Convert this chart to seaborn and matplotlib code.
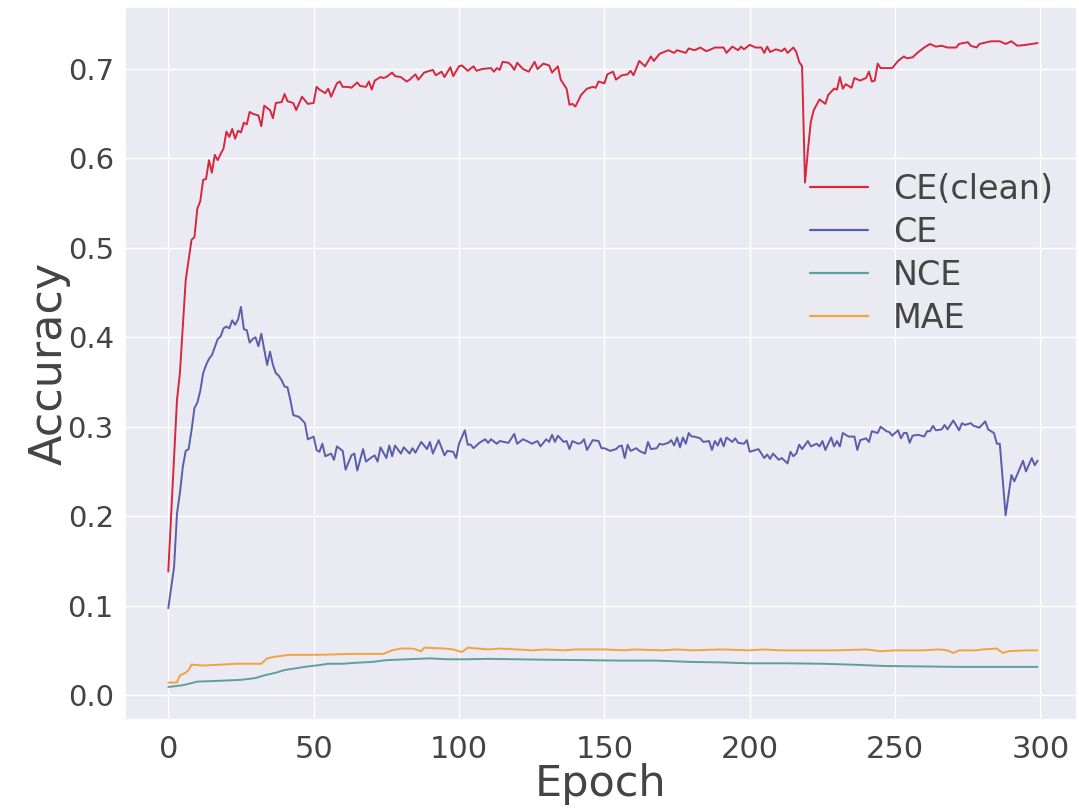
import numpy as np
import pandas as pd
import matplotlib
matplotlib.use("Agg")
import matplotlib.pyplot as plt
import seaborn as sns

# ---------------- data (epoch, accuracy) ----------------
ce_clean = [(0,0.138),(3,0.330),(4,0.360),(6,0.464),(8,0.509),(9,0.512),(10,0.544),(11,0.552),(12,0.576),(13,0.577),
    (14,0.598),(15,0.584),(16,0.604),(17,0.598),(18,0.605),(19,0.611),(20,0.630),(21,0.624),(22,0.633),(23,0.622),
    (24,0.631),(25,0.629),(26,0.640),(27,0.638),(28,0.652),(29,0.650),(31,0.648),(32,0.636),(33,0.659),(35,0.654),
    (36,0.645),(37,0.662),(39,0.663),(40,0.672),(41,0.664),(43,0.662),(44,0.654),(46,0.669),(48,0.661),(50,0.662),
    (51,0.680),(52,0.677),(54,0.673),(55,0.678),(56,0.669),(58,0.684),(59,0.686),(60,0.680),(62,0.680),(63,0.679),
    (65,0.685),(66,0.681),(68,0.680),(69,0.686),(70,0.677),(71,0.687),(73,0.691),(74,0.690),(75,0.691),(77,0.696),
    (78,0.692),(80,0.691),(82,0.686),(83,0.688),(85,0.694),(86,0.688),(88,0.696),(89,0.697),(91,0.699),(92,0.693),
    (94,0.697),(95,0.691),(97,0.702),(98,0.692),(100,0.703),(101,0.704),(103,0.698),(105,0.703),(106,0.698),
    (108,0.700),(111,0.701),(112,0.697),(113,0.701),(114,0.699),(115,0.708),(117,0.707),(118,0.704),(119,0.699),
    (120,0.707),(122,0.700),(124,0.697),(126,0.708),(127,0.700),(129,0.706),(131,0.704),(132,0.696),(134,0.703),
    (135,0.688),(137,0.678),(138,0.660),(139,0.661),(140,0.658),(142,0.671),(144,0.678),(146,0.680),(147,0.679),
    (148,0.686),(150,0.684),(151,0.694),(153,0.697),(154,0.688),(156,0.693),(158,0.694),(159,0.698),(160,0.693),
    (162,0.709),(164,0.703),(166,0.714),(167,0.709),(169,0.717),(172,0.721),(174,0.718),(175,0.721),(178,0.718),
    (179,0.723),(181,0.721),(183,0.724),(185,0.720),(186,0.721),(188,0.724),(191,0.724),(192,0.718),(194,0.725),
    (196,0.721),(197,0.725),(198,0.722),(200,0.727),(202,0.724),(204,0.724),(205,0.718),(206,0.725),(207,0.719),
    (209,0.722),(211,0.720),(212,0.723),(213,0.718),(215,0.724),(216,0.719),(217,0.708),(218,0.703),(219,0.573),
    (220,0.609),(221,0.641),(222,0.654),(224,0.666),(226,0.661),(227,0.671),(229,0.678),(230,0.677),(231,0.691),
    (232,0.678),(233,0.683),(235,0.679),(236,0.690),(238,0.687),(240,0.690),(241,0.697),(242,0.686),(243,0.687),
    (244,0.706),(245,0.701),(247,0.701),(249,0.701),(251,0.709),(253,0.714),(254,0.712),(256,0.713),(258,0.719),
    (260,0.724),(262,0.728),(264,0.725),(266,0.726),(268,0.724),(271,0.724),(272,0.728),(275,0.730),(276,0.726),
    (278,0.724),(279,0.728),(283,0.731),(286,0.731),(288,0.728),(290,0.731),(292,0.726),(295,0.727),(297,0.728),
    (299,0.729)]

ce = [(0,0.097),(2,0.143),(3,0.203),(4,0.226),(5,0.255),(6,0.273),(7,0.275),(8,0.296),(9,0.321),(10,0.327),
    (11,0.340),(12,0.360),(13,0.369),(14,0.376),(15,0.380),(16,0.389),(17,0.398),(18,0.401),(19,0.410),(20,0.412),
    (21,0.410),(22,0.419),(23,0.414),(24,0.420),(25,0.434),(26,0.409),(27,0.408),(28,0.394),(29,0.398),(30,0.400),
    (31,0.390),(32,0.404),(34,0.369),(35,0.384),(36,0.369),(37,0.360),(38,0.357),(39,0.352),(40,0.345),(41,0.344),
    (42,0.330),(43,0.313),(44,0.312),(45,0.311),(47,0.304),(48,0.286),(50,0.289),(51,0.274),(52,0.272),(53,0.281),
    (54,0.267),(56,0.270),(57,0.263),(58,0.278),(60,0.273),(61,0.252),(63,0.268),(64,0.270),(65,0.251),(67,0.275),
    (68,0.261),(70,0.266),(71,0.268),(72,0.261),(73,0.277),(75,0.265),(76,0.279),(77,0.267),(78,0.279),(80,0.270),
    (81,0.277),(83,0.270),(84,0.276),(85,0.271),(87,0.283),(89,0.275),(90,0.283),(91,0.270),(93,0.285),(95,0.268),
    (96,0.273),(98,0.272),(99,0.265),(100,0.281),(102,0.296),(103,0.280),(104,0.280),(105,0.276),(107,0.282),
    (109,0.286),(110,0.282),(111,0.286),(113,0.281),(114,0.284),(117,0.282),(119,0.292),(120,0.281),(122,0.286),
    (124,0.283),(125,0.281),(127,0.284),(128,0.278),(130,0.286),(131,0.283),(132,0.291),(133,0.283),(134,0.290),
    (136,0.283),(137,0.284),(138,0.275),(139,0.284),(141,0.281),(142,0.282),(143,0.286),(144,0.274),(146,0.285),
    (148,0.284),(149,0.276),(150,0.276),(152,0.273),(154,0.275),(155,0.278),(156,0.279),(157,0.265),(158,0.280),
    (159,0.273),(161,0.276),(162,0.273),(164,0.270),(165,0.283),(166,0.275),(168,0.276),(169,0.281),(170,0.280),
    (172,0.282),(173,0.285),(174,0.279),(175,0.288),(176,0.277),(177,0.288),(178,0.281),(179,0.293),(180,0.289),
    (181,0.289),(183,0.287),(184,0.283),(186,0.284),(187,0.274),(188,0.284),(189,0.279),(190,0.287),(191,0.278),
    (192,0.288),(194,0.283),(195,0.287),(196,0.282),(198,0.281),(199,0.285),(200,0.272),(201,0.273),(203,0.275),
    (205,0.265),(206,0.269),(207,0.264),(208,0.270),(210,0.263),(211,0.265),(213,0.259),(214,0.272),(215,0.267),
    (216,0.270),(217,0.280),(218,0.275),(220,0.284),(221,0.278),(223,0.281),(224,0.278),(225,0.284),(226,0.274),
    (228,0.288),(229,0.278),(230,0.284),(231,0.278),(232,0.293),(234,0.289),(236,0.289),(237,0.274),(238,0.285),
    (240,0.287),(241,0.283),(242,0.295),(244,0.293),(245,0.300),(247,0.295),(248,0.294),(249,0.290),(251,0.296),
    (252,0.287),(253,0.293),(254,0.293),(255,0.282),(256,0.290),(258,0.291),(260,0.289),(261,0.295),(262,0.295),
    (263,0.301),(264,0.296),(266,0.297),(267,0.302),(268,0.297),(270,0.307),(272,0.296),(273,0.304),(274,0.302),
    (276,0.304),(277,0.301),(279,0.299),(281,0.306),(282,0.297),(284,0.293),(285,0.281),(286,0.281),(288,0.201),
    (290,0.246),(291,0.239),(294,0.262),(295,0.250),(297,0.265),(298,0.257),(299,0.262)]

nce = [(0,0.009),(5,0.011),(10,0.015),(18,0.016),(25,0.017),(30,0.019),(33,0.022),(37,0.025),(40,0.028),(44,0.030),
    (48,0.032),(52,0.0335),(55,0.035),(60,0.035),(64,0.036),(70,0.037),(75,0.039),(82,0.040),(90,0.041),(96,0.040),
    (102,0.040),(110,0.0405),(120,0.040),(130,0.0395),(145,0.039),(155,0.0385),(168,0.0385),(180,0.037),
    (190,0.0365),(200,0.0355),(212,0.0355),(225,0.035),(235,0.034),(246,0.0325),(259,0.032),(271,0.0315),
    (285,0.0315),(299,0.0315)]

mae = [(0,0.014),(3,0.014),(4,0.022),(6,0.025),(7,0.028),(8,0.034),(12,0.033),(18,0.034),(23,0.035),(32,0.035),
    (34,0.041),(37,0.043),(42,0.045),(52,0.045),(63,0.046),(74,0.046),(77,0.050),(80,0.052),(84,0.052),(87,0.049),
    (88,0.053),(95,0.052),(98,0.051),(101,0.048),(103,0.053),(110,0.051),(114,0.052),(120,0.051),(125,0.050),
    (130,0.051),(136,0.050),(140,0.051),(150,0.051),(157,0.050),(160,0.051),(170,0.050),(175,0.051),(180,0.050),
    (190,0.051),(200,0.050),(205,0.051),(210,0.050),(220,0.050),(230,0.050),(240,0.051),(245,0.049),(250,0.050),
    (260,0.050),(265,0.051),(268,0.050),(270,0.047),(272,0.050),(278,0.050),(280,0.051),(285,0.052),(287,0.047),
    (289,0.049),(295,0.050),(299,0.050)]

series_names = ["CE(clean)", "CE", "NCE", "MAE"]
series_colors = ["#d7263d", "#5a5eaa", "#5f9ea0", "#f5a142"]
x_ticks = [0, 50, 100, 150, 200, 250, 300]
y_ticks = [0.0, 0.1, 0.2, 0.3, 0.4, 0.5, 0.6, 0.7]

# ---------------- build tidy frame ----------------
frames = []
for name, pts in zip(series_names, [ce_clean, ce, nce, mae]):
    d = pd.DataFrame(pts, columns=["Epoch", "Accuracy"])
    d["Loss"] = name
    frames.append(d)
df = pd.concat(frames, ignore_index=True)

# ---------------- plot ----------------
sns.set_theme(style="darkgrid")
plt.rcParams["font.family"] = ["DejaVu Sans"]

fig = plt.figure(figsize=(10.79, 8.10), dpi=100)
ax = fig.add_axes([0.1158, 0.111, 0.8822, 0.880])

sns.lineplot(data=df, x="Epoch", y="Accuracy", hue="Loss", hue_order=series_names,
             palette=series_colors, linewidth=1.4, ax=ax, estimator=None, sort=True)

ax.set_xlim(-14.9, 312.5)
ax.set_ylim(-0.028, 0.769)
ax.set_xticks(x_ticks)
ax.set_yticks(y_ticks)
ax.set_yticklabels([f"{v:.1f}" for v in y_ticks])
ax.tick_params(axis="y", labelsize=21, colors="#444444", pad=2)
ax.tick_params(axis="x", labelsize=22, colors="#444444", pad=5)
ax.set_xlabel("Epoch", fontsize=31, color="#444444", labelpad=-1)
ax.set_ylabel("Accuracy", fontsize=32, color="#444444", labelpad=-2)

leg = ax.legend(loc="upper left", bbox_to_anchor=(0.688, 0.81), frameon=False, fontsize=24,
                handlelength=1.75, handletextpad=0.75, labelspacing=0.3)
for t in leg.get_texts():
    t.set_color("#444444")
for h in leg.get_lines():
    h.set_linewidth(1.6)

fig.savefig("out.png", dpi=100)
